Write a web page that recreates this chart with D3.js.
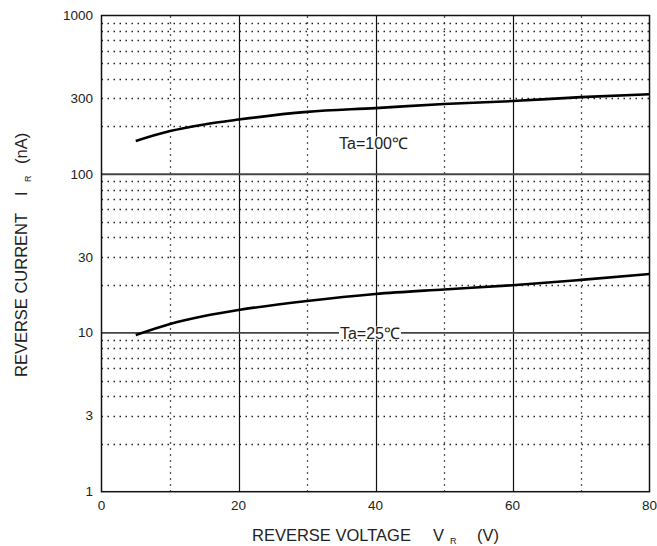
<!DOCTYPE html>
<html>
<head>
<meta charset="utf-8">
<script src="https://cdn.jsdelivr.net/npm/d3@7"></script>
<style>
  body { margin: 0; background: #fff; }
  text { font-family: "Liberation Sans", Arial, sans-serif; fill: #222; }
</style>
</head>
<body>
<svg id="chart" width="657" height="546"></svg>
<script>
// data
const voltage = [5, 10, 15, 20, 30, 40, 50, 60, 70, 80];
const current100 = [162, 187, 206, 221, 247, 261, 277, 289, 306, 319];
const current25 = [9.7, 11.4, 12.8, 13.95, 15.9, 17.6, 18.8, 20.0, 21.6, 23.5];
const xTicks = [0, 20, 40, 60, 80];
const yTicks = [1, 3, 10, 30, 100, 300, 1000];

const svg = d3.select('#chart');
const x = d3.scaleLinear().domain([0, 80]).range([101.5, 649.5]);
const y = d3.scaleLog().domain([1, 1000]).range([491.7, 15.5]);

// minor horizontal grid (dotted)
const minorY = [];
[1, 10, 100].forEach(d => { for (let k = 2; k <= 9; k++) minorY.push(d * k); });
svg.append('g').selectAll('line').data(minorY).enter().append('line')
  .attr('x1', x(0)).attr('x2', x(80))
  .attr('y1', d => Math.round(y(d)) + 0.5).attr('y2', d => Math.round(y(d)) + 0.5)
  .attr('stroke', '#222').attr('stroke-width', 1.3)
  .attr('stroke-dasharray', '1.5,4.5');

// minor vertical grid (dotted)
svg.append('g').selectAll('line').data([10, 30, 50, 70]).enter().append('line')
  .attr('x1', d => Math.round(x(d)) + 0.5).attr('x2', d => Math.round(x(d)) + 0.5)
  .attr('y1', y(1)).attr('y2', y(1000))
  .attr('stroke', '#222').attr('stroke-width', 1.3)
  .attr('stroke-dasharray', '1.5,4.5');

// major grid
svg.append('g').selectAll('line').data([20, 40, 60]).enter().append('line')
  .attr('x1', d => Math.round(x(d)) + 0.5).attr('x2', d => Math.round(x(d)) + 0.5)
  .attr('y1', y(1)).attr('y2', y(1000))
  .attr('stroke', '#111').attr('stroke-width', 1.2);
svg.append('g').selectAll('line').data([10, 100]).enter().append('line')
  .attr('x1', x(0)).attr('x2', x(80))
  .attr('y1', d => y(d)).attr('y2', d => y(d))
  .attr('stroke', '#444').attr('stroke-width', 1.8);

// frame
svg.append('rect')
  .attr('x', x(0)).attr('y', y(1000))
  .attr('width', x(80) - x(0)).attr('height', y(1) - y(1000))
  .attr('fill', 'none').attr('stroke', '#111').attr('stroke-width', 1.5);

// curves
const line = d3.line().x(d => x(d[0])).y(d => y(d[1])).curve(d3.curveMonotoneX);
[current100, current25].forEach(s => {
  svg.append('path')
    .datum(voltage.map((v, i) => [v, s[i]]))
    .attr('d', line)
    .attr('fill', 'none').attr('stroke', '#000').attr('stroke-width', 2.6);
});

// curve labels
function label(txt, cx, cy) {
  const t = svg.append('text').attr('x', cx).attr('y', cy + 5.5)
    .attr('text-anchor', 'middle')
    .attr('font-size', 16).text(txt);
  const b = t.node().getBBox();
  svg.insert('rect', () => t.node())
    .attr('x', b.x - 1).attr('y', b.y + 2).attr('width', b.width + 2).attr('height', b.height - 4)
    .attr('fill', '#fff');
}
label('Ta=100\u2103', 373.5, 143);
label('Ta=25\u2103', 370, 333);

// tick labels
svg.append('g').selectAll('text').data(xTicks).enter().append('text')
  .attr('x', d => x(d)).attr('y', 510)
  .attr('text-anchor', 'middle').attr('font-size', 13.5)
  .text(d => d);
svg.append('g').selectAll('text').data(yTicks).enter().append('text')
  .attr('x', 93).attr('y', d => y(d) + 4.5)
  .attr('text-anchor', 'end').attr('font-size', 13.5)
  .text(d => d);

// axis titles
const xt = svg.append('text').attr('x', 252).attr('y', 541).attr('font-size', 16.5);
xt.append('tspan').text('REVERSE VOLTAGE');
xt.append('tspan').attr('x', 433).text('V');
xt.append('tspan').attr('x', 450).attr('dy', 3).attr('font-size', 9).text('R');
xt.append('tspan').attr('x', 477).attr('dy', -3).text('(V)');

const yt = svg.append('text').attr('transform', 'translate(27,377) rotate(-90)').attr('font-size', 16.5);
yt.append('tspan').attr('x', 0).text('REVERSE CURRENT');
yt.append('tspan').attr('x', 181).text('I');
yt.append('tspan').attr('x', 195).attr('dy', 4).attr('font-size', 9).text('R');
yt.append('tspan').attr('x', 213).attr('dy', -4).text('(nA)');
</script>
</body>
</html>
